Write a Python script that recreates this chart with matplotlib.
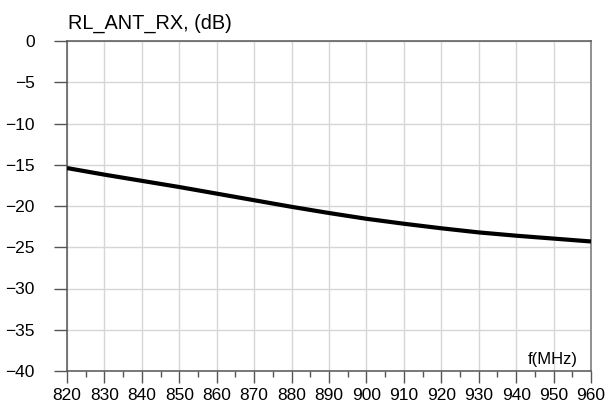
import numpy as np
import matplotlib
matplotlib.use("Agg")
import matplotlib.pyplot as plt

# 10 MHz steps
freq_mhz = [820, 830, 840, 850, 860, 870, 880, 890, 900, 910, 920, 930, 940, 950, 960]
rl_db = [-15.4, -16.2, -16.95, -17.7, -18.5, -19.3, -20.1, -20.85, -21.55, -22.15,
         -22.7, -23.2, -23.6, -23.95, -24.3]

y_ticks = [0, -5, -10, -15, -20, -25, -30, -35, -40]
title = "RL_ANT_RX, (dB)"
x_name = "f(MHz)"

plt.rcParams['font.family'] = ['Liberation Sans', 'DejaVu Sans']

fig = plt.figure(figsize=(6.15, 4.05), dpi=100)
ax = fig.add_axes([67 / 615, 1 - 371 / 405, 524 / 615, 330 / 405])

ax.plot(freq_mhz, rl_db, color="black", lw=3, solid_capstyle="butt",
        solid_joinstyle="round", zorder=3)

ax.set_xlim(820, 960)
ax.set_ylim(-40, 0)
ax.set_xticks(freq_mhz)
ax.set_xticks(np.arange(825, 960, 10), minor=True)
ax.set_yticks(y_ticks)

ax.grid(True, which="major", color="#d6d6d6", lw=1.0)
ax.set_axisbelow(True)

ax.tick_params(axis="x", which="major", direction="out", length=8.5, width=1,
               color="#555555", labelsize=12.5, pad=3.5)
ax.tick_params(axis="x", which="minor", direction="out", length=4.3, width=1,
               color="#555555")
ax.tick_params(axis="y", direction="out", length=9.7, width=1,
               color="#555555", labelsize=12.5, pad=13.5)

for side in ["left", "top", "bottom"]:
    ax.spines[side].set_color("#555555")
    ax.spines[side].set_linewidth(1.1)
ax.spines["right"].set_color("#888888")
ax.spines["right"].set_linewidth(1.3)

fig.text(68 / 615, 1 - 23.5 / 405, title, fontsize=14.3, ha="left", va="center")
ax.text(0.974, 0.012, x_name, transform=ax.transAxes, fontsize=12, ha="right",
        va="bottom")

fig.savefig("out.png", dpi=100)
